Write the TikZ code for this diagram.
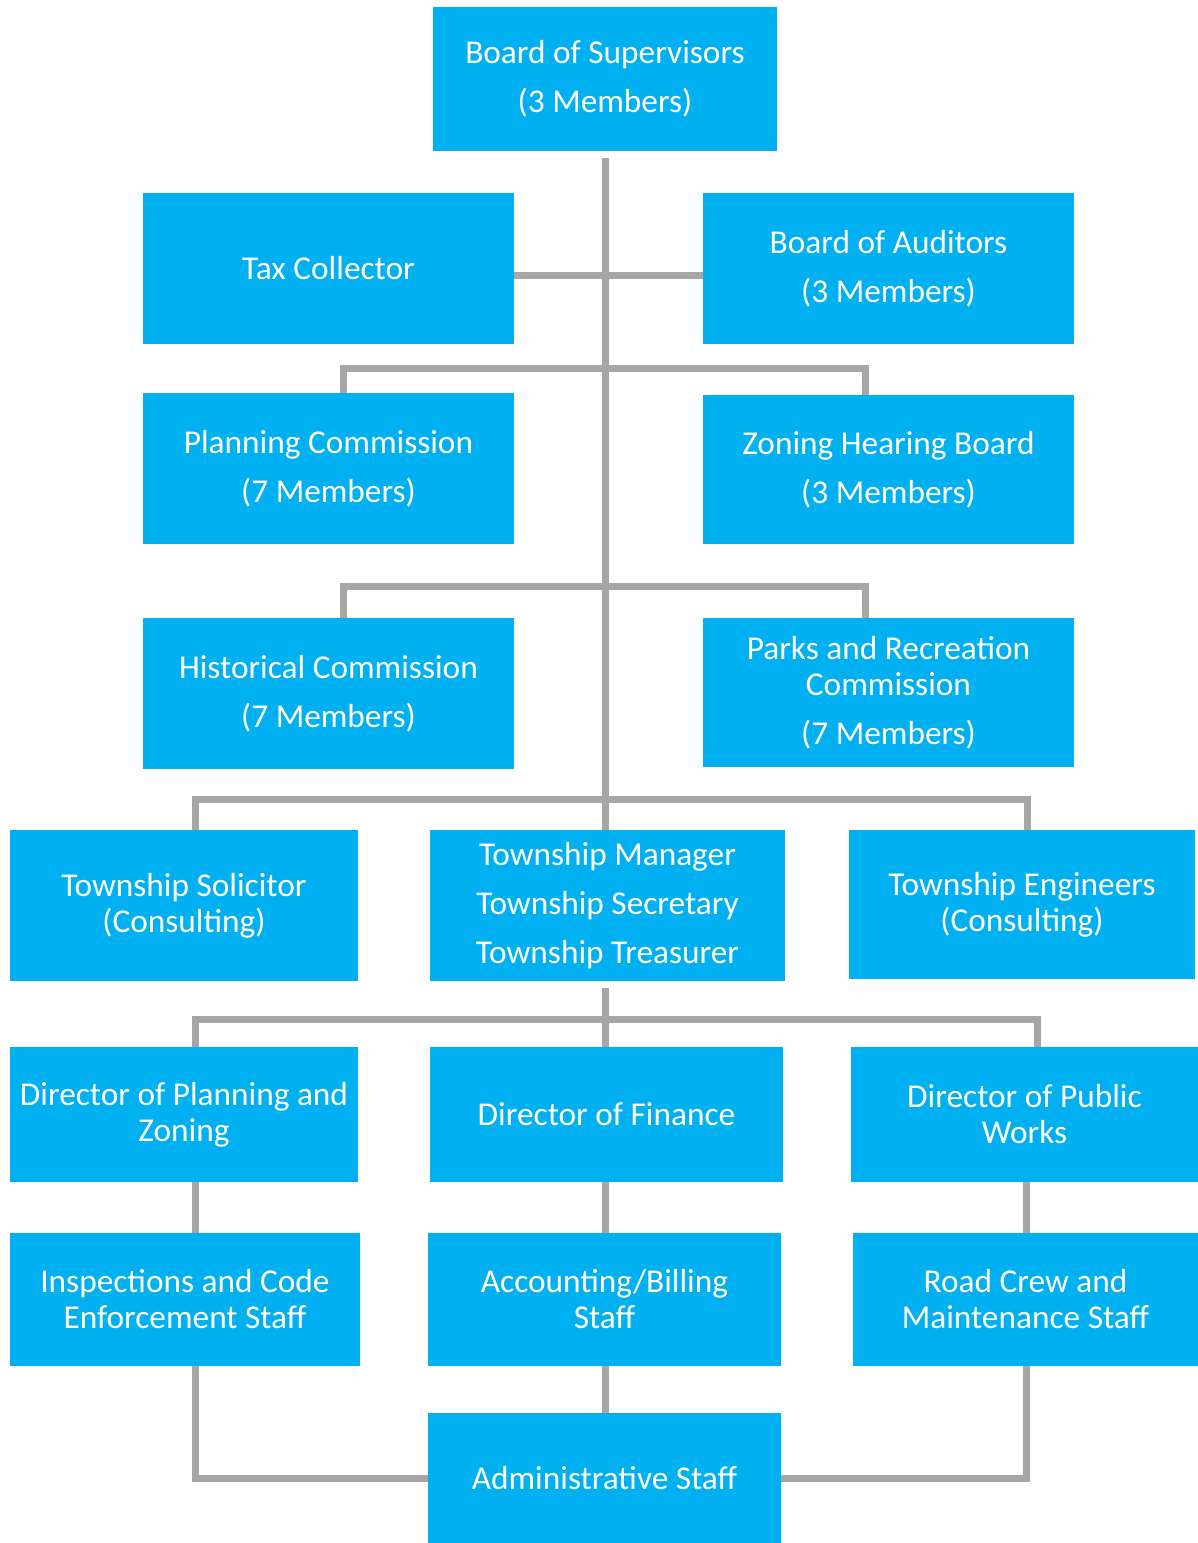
\documentclass[tikz,border=0pt]{standalone}
\usepackage{fontspec}
\setmainfont{Carlito}
\usepackage{xcolor}
\usepackage{tikz}
\usetikzlibrary{positioning}

\definecolor{boxblue}{HTML}{00B0F0}
\definecolor{linegray}{HTML}{A6A6A6}
\newcommand{\gap}{\\[9.75pt]}

\begin{document}
\begin{tikzpicture}[
    x=0.75pt, y=-0.75pt,
    box/.style={rectangle, fill=boxblue, text=white, align=center, inner sep=0pt,
                font=\fontsize{25}{27}\selectfont},
    side/.style={box, minimum width=278.25pt, minimum height=113.25pt},
    col/.style={box, minimum width=261pt, minimum height=113.25pt},
    dept/.style={box, minimum width=262pt, minimum height=101.25pt},
    staff/.style={box, minimum width=262pt, minimum height=99.75pt},
    link/.style={draw=linegray, line width=5.25pt}
]
\useasboundingbox (0,0) rectangle (1198,1543);

% board level
\node[box, minimum width=258pt, minimum height=108pt] (bos) at (605,79)
    {Board of Supervisors\gap(3 Members)};
\node[side] (tax) at (328.5,268.5) {Tax Collector};
\node[side] (aud) at (888.5,268.5) {Board of Auditors\gap(3 Members)};
\node[side] (plan) at (328.5,468.5) {Planning Commission\gap(7 Members)};
\node[side, minimum height=111.75pt] (zhb) at (888.5,469.5) {Zoning Hearing Board\gap(3 Members)};
\node[side] (hist) at (328.5,693.5) {Historical Commission\gap(7 Members)};
\node[side, minimum height=111.75pt] (parks) at (888.5,692.5)
    {Parks and Recreation\\Commission\gap(7 Members)};

% township officers
\node[col] (sol) at (184,905.5) {Township Solicitor\\(Consulting)};
\node[col, minimum width=266.25pt] (mgr) at (607.5,905.5)
    {Township Manager\gap Township Secretary\gap Township Treasurer};
\node[col, minimum width=259.5pt, minimum height=111.75pt] (eng) at (1022,904.5)
    {Township Engineers\\(Consulting)};

% departments
\node[dept, minimum width=261pt] (dpz) at (184,1114.5) {Director of Planning and\\Zoning};
\node[dept, minimum width=264.75pt] (fin) at (606.5,1114.5) {Director of Finance};
\node[dept, minimum width=260.25pt] (dpw) at (1024.5,1114.5) {Director of Public\\Works};

% staff
\node[staff, minimum width=262.5pt] (insp) at (185,1299.5) {Inspections and Code\\Enforcement Staff};
\node[staff, minimum width=264.75pt] (acct) at (604.5,1299.5) {Accounting/Billing\\Staff};
\node[staff, minimum width=258.75pt] (road) at (1025.5,1299.5) {Road Crew and\\Maintenance Staff};
\node[box, minimum width=264.75pt, minimum height=97.5pt] (adm) at (604.5,1478) {Administrative Staff};

% connectors (centre line runs straight down from bos)
\draw[link, shorten <=5pt] (bos.south) -- (bos.south |- mgr.north);
\draw[link] ([yshift=-5.6pt]tax.east) -- ([yshift=-5.6pt]aud.west);
\draw[link] ([xshift=11.6pt]plan.north) -- ++(0,-24) -| ([xshift=-16.9pt]zhb.north);
\draw[link] ([xshift=11.6pt]hist.north) -- ++(0,-31) -| ([xshift=-16.9pt]parks.north);
\draw[link] ([xshift=8.25pt]sol.north) -- ++(0,-30) -| ([xshift=3.75pt]eng.north);
\draw[link, shorten <=5pt] (bos.south |- mgr.south) -- (bos.south |- fin.north);
\draw[link] ([xshift=8.25pt]dpz.north) -- ++(0,-27) -| ([xshift=9.4pt]dpw.north);
\draw[link] ([xshift=8.25pt]dpz.south) -- ([xshift=7.5pt]insp.north);
\draw[link] (bos.south |- fin.south) -- (bos.south |- acct.north);
\draw[link] ([xshift=1.5pt]dpw.south) -- ([xshift=0.75pt]road.north);
\draw[link] (bos.south |- acct.south) -- (bos.south |- adm.north);
\draw[link] ([xshift=7.5pt]insp.south) |- (adm.west);
\draw[link] ([xshift=0.75pt]road.south) |- (adm.east);
\end{tikzpicture}
\end{document}
